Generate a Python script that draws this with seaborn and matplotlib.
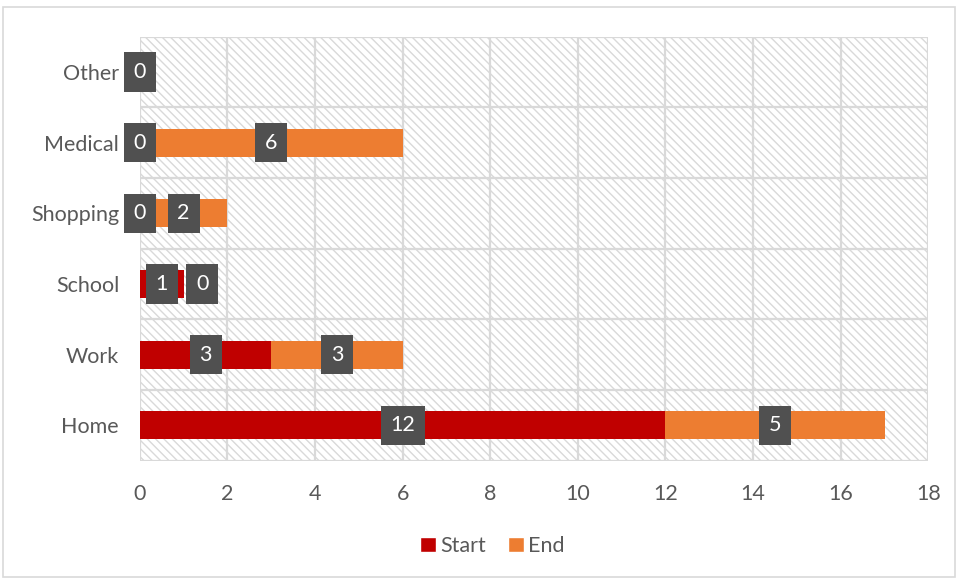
import matplotlib
matplotlib.use("Agg")
import matplotlib.pyplot as plt
import seaborn as sns
import pandas as pd
from matplotlib.patches import Rectangle, Patch

categories = ["Other", "Medical", "Shopping", "School", "Work", "Home"]
start_vals = [0, 0, 0, 1, 3, 12]
end_vals = [0, 6, 2, 0, 3, 5]
x_ticks = [0, 2, 4, 6, 8, 10, 12, 14, 16, 18]

RED = "#C00000"
ORANGE = "#ED7D31"
GRID = "#D9D9D9"
TXT = "#595959"
BOX = "#505050"

sns.set_theme(style="white")
plt.rcParams["font.family"] = ["Lato", "DejaVu Sans"]

df = pd.DataFrame({
    "cat": categories,
    "Start": start_vals,
    "End": end_vals,
})
df["Total"] = df["Start"] + df["End"]

fig = plt.figure(figsize=(9.58, 5.79), dpi=100)
ax = fig.add_axes([0.146, 0.2045, 0.823, 0.732])

# hatched plot area
bg = Rectangle((0, 0), 1, 1, transform=ax.transAxes, facecolor="white",
               edgecolor=GRID, hatch="\\\\\\\\", linewidth=0, zorder=0)
ax.add_patch(bg)
ax.patch.set_alpha(0)

sns.barplot(data=df, y="cat", x="Total", order=categories, orient="h",
            color=ORANGE, saturation=1, width=0.4, ax=ax, zorder=3,
            linewidth=0, edgecolor="none")
sns.barplot(data=df, y="cat", x="Start", order=categories, orient="h",
            color=RED, saturation=1, width=0.4, ax=ax, zorder=4,
            linewidth=0, edgecolor="none")

ax.set_xlim(0, 18)
ax.set_ylim(len(categories) - 0.5, -0.5)
ax.set_xticks(x_ticks)
ax.set_xlabel("")
ax.set_ylabel("")

# grid lines
for xv in x_ticks:
    ax.axvline(xv, color=GRID, lw=1.6, zorder=1)
for i in range(len(categories) + 1):
    ax.axhline(i - 0.5, color=GRID, lw=1.6, zorder=1)
for s in ax.spines.values():
    s.set_visible(False)

FS = 15.5
ax.tick_params(axis="both", length=0, labelsize=FS, labelcolor=TXT)
ax.tick_params(axis="x", pad=17)
ax.tick_params(axis="y", pad=15)

# data labels
min_gap = 0.92
for i, (s, e) in enumerate(zip(start_vals, end_vals)):
    positions = []
    p1 = s / 2
    positions.append((p1, s))
    p2 = s + e / 2
    if abs(p2 - p1) < 1e-9 and e == 0:
        p2 = None
    elif p2 - p1 < min_gap:
        p2 = p1 + min_gap
    if p2 is not None:
        positions.append((p2, e))
    for px, v in positions:
        ax.text(px, i, str(v), ha="center", va="center", color="white",
                fontsize=FS, zorder=6,
                bbox=dict(boxstyle="square,pad=0.45", facecolor=BOX,
                          edgecolor="none"))

# legend
handles = [Patch(facecolor=RED, label="Start"), Patch(facecolor=ORANGE, label="End")]
leg = fig.legend(handles=handles, loc="center", bbox_to_anchor=(0.514, 0.057),
                 ncol=2, frameon=False, fontsize=FS, handlelength=0.75,
                 handleheight=0.75, handletextpad=0.2, columnspacing=1.0)
for t in leg.get_texts():
    t.set_color(TXT)

# chart border
fig.add_artist(Rectangle((0.003, 0.003), 0.994, 0.985, transform=fig.transFigure,
                         fill=False, edgecolor=GRID, lw=1.2))

fig.savefig("out.png", dpi=100)
